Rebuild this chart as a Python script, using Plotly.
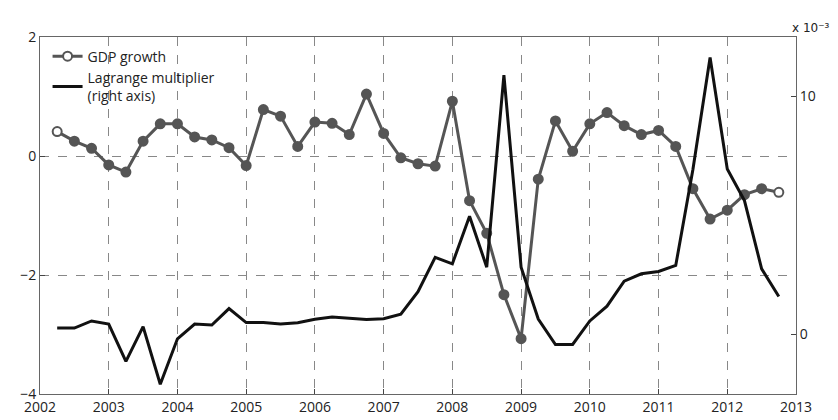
import numpy as np
import plotly.graph_objects as go

quarters = [2002.25 + 0.25 * i for i in range(43)]
gdp_growth = [0.41, 0.25, 0.13, -0.15, -0.27, 0.25, 0.54, 0.54, 0.32, 0.27, 0.14,
              -0.16, 0.78, 0.67, 0.16, 0.57, 0.55, 0.36, 1.04, 0.38, -0.03, -0.13,
              -0.17, 0.92, -0.75, -1.30, -2.33, -3.07, -0.39, 0.59, 0.08, 0.54,
              0.73, 0.51, 0.36, 0.43, 0.16, -0.55, -1.06, -0.91, -0.65, -0.55, -0.61]
lagrange = [0.27, 0.27, 0.57, 0.44, -1.13, 0.33, -2.09, -0.18, 0.44, 0.40, 1.09,
            0.50, 0.50, 0.44, 0.49, 0.64, 0.74, 0.67, 0.63, 0.66, 0.85, 1.80,
            3.24, 2.97, 4.97, 2.83, 10.9, 2.83, 0.65, -0.42, -0.42, 0.57, 1.19,
            2.24, 2.55, 2.65, 2.90, 6.93, 11.64, 6.95, 5.63, 2.76, 1.60]

years = list(range(2002, 2014))
fnt = dict(family="Open Sans, DejaVu Sans", size=14, color="#222")

fill = ["white"] + ["#555"] * (len(quarters) - 2) + ["white"]

fig = go.Figure()
fig.add_trace(go.Scatter(x=quarters, y=gdp_growth, name="GDP growth", mode="lines+markers",
                         line=dict(color="#555", width=3),
                         marker=dict(size=9, color=fill, line=dict(color="#555", width=2))))
fig.add_trace(go.Scatter(x=quarters, y=lagrange, name="Lagrange multiplier<br>(right axis)",
                         mode="lines", line=dict(color="#111", width=3), yaxis="y2"))

grid = dict(showgrid=True, gridcolor="#888", griddash="dash", gridwidth=1)
fig.update_layout(
    width=838, height=420, paper_bgcolor="white", plot_bgcolor="white",
    margin=dict(l=27, r=50, t=29, b=24), font=fnt,
    xaxis=dict(range=[2002, 2013], tickvals=years, ticks="inside", ticklen=5,
               showline=True, linecolor="#666", mirror=True, zeroline=False, **grid),
    yaxis=dict(range=[-4, 2], tickvals=[-4, -2, 0, 2], ticktext=["\u22124", "\u22122", "0", "2"],
               ticks="inside", ticklen=5, showline=True, linecolor="#666",
               zeroline=False, **grid),
    yaxis2=dict(range=[-2.5, 12.5], tickvals=[0, 10], overlaying="y", side="right",
                ticks="inside", ticklen=5, showgrid=False, zeroline=False,
                showline=True, linecolor="#666"),
    legend=dict(x=0.01, y=0.99, xanchor="left", yanchor="top", bgcolor="rgba(0,0,0,0)",
                font=dict(size=14), tracegroupgap=2),
    showlegend=True,
)
fig.add_annotation(text="x 10\u207b\u00b3", xref="paper", yref="paper", x=1.0, y=1.0,
                   xanchor="left", yanchor="bottom", showarrow=False, xshift=-6,
                   font=dict(family="DejaVu Sans", size=12, color="#222"))
fig.write_html("out.html")
